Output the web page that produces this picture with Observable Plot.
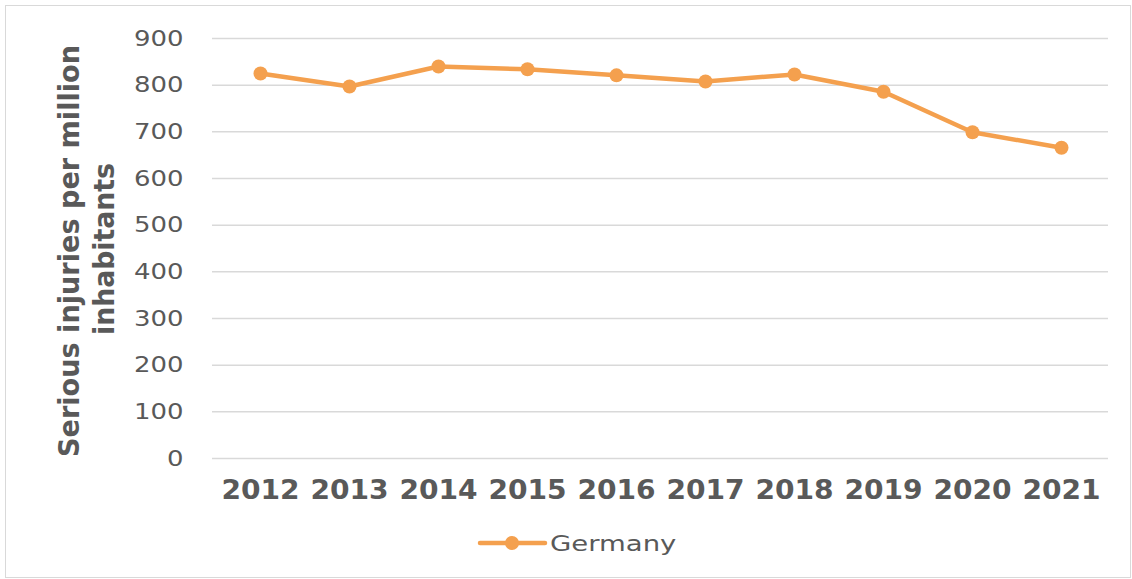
<!DOCTYPE html>
<html><head><meta charset="utf-8">
<script src="https://cdn.jsdelivr.net/npm/d3@7"></script>
<script src="https://cdn.jsdelivr.net/npm/@observablehq/plot@0.6"></script>
<style>
body{margin:0;background:#fff;font-family:"DejaVu Sans",Verdana,sans-serif;}
#frame{position:absolute;left:5px;top:5px;width:1126px;height:573px;border:1px solid #d9d9d9;box-sizing:border-box;}
#chart{position:absolute;left:0;top:0;width:1132px;}
#legend{position:absolute;left:0;top:515px;width:1132px;height:60px;}
</style></head><body>
<div id="frame"></div>
<div id="chart"></div>
<div id="legend"></div>
<script>
const years = ["2012","2013","2014","2015","2016","2017","2018","2019","2020","2021"];
const values = [825, 797, 840, 834, 821, 808, 823, 786, 699, 666];
const yTicks = [0, 100, 200, 300, 400, 500, 600, 700, 800, 900];
const seriesName = "Germany";
const yTitleLines = ["Serious injuries per million", "inhabitants"];
const lineColor = "#f4a04e";
const textColor = "#595959";

const data = years.map((y, i) => ({year: y, value: values[i], series: seriesName}));

const plot = Plot.plot({
  width: 1132, height: 515,
  marginLeft: 212, marginRight: 24, marginTop: 38, marginBottom: 57,
  style: {background: "transparent", fontFamily: "DejaVu Sans, Verdana, sans-serif", color: textColor},
  x: {type: "point", domain: years, padding: 0.5, label: null},
  y: {domain: [0, 900], label: null},
  marks: [
    Plot.gridY(yTicks, {stroke: "#d9d9d9", strokeOpacity: 1, strokeWidth: 1.5}),
    Plot.axisY(yTicks, {tickSize: 0, tickPadding: 29, fontSize: 22, label: null}),
    Plot.axisX({tickSize: 0, tickPadding: 22, fontSize: 26, fontWeight: "bold", label: null}),
    Plot.line(data, {x: "year", y: "value", stroke: lineColor, strokeWidth: 4.5}),
    Plot.dot(data, {x: "year", y: "value", fill: lineColor, r: 7})
  ]
});
document.getElementById("chart").appendChild(plot);

const svg = d3.select(plot);
svg.selectAll("g[aria-label='y-axis tick label'] text").each(function() {
  const w = this.getComputedTextLength();
  d3.select(this).attr("textLength", w * 1.18).attr("lengthAdjust", "spacingAndGlyphs");
});
svg.selectAll("g[aria-label='x-axis tick label'] text").each(function() {
  const w = this.getComputedTextLength();
  d3.select(this).attr("textLength", w * 1.08).attr("lengthAdjust", "spacingAndGlyphs");
});

const titleLens = [412, 172];
const titleX = [79, 114];
const titleY = [251, 249];
yTitleLines.forEach((t, i) => {
  svg.append("text")
    .attr("transform", `translate(${titleX[i]},${titleY[i]}) rotate(-90)`)
    .attr("text-anchor", "middle")
    .attr("font-weight", "bold")
    .attr("font-size", 28)
    .attr("fill", textColor)
    .attr("textLength", titleLens[i])
    .attr("lengthAdjust", "spacingAndGlyphs")
    .text(t);
});

// legend
const lg = d3.select("#legend").append("svg").attr("width", 1132).attr("height", 60);
lg.append("line").attr("x1", 480).attr("x2", 545).attr("y1", 28).attr("y2", 28)
  .attr("stroke", lineColor).attr("stroke-width", 4.5).attr("stroke-linecap", "round");
lg.append("circle").attr("cx", 512).attr("cy", 28).attr("r", 7).attr("fill", lineColor);
const lt = lg.append("text").attr("x", 550).attr("y", 36).attr("font-size", 22)
  .attr("fill", textColor).attr("font-family", "DejaVu Sans, Verdana, sans-serif").text(seriesName);
lt.attr("textLength", lt.node().getComputedTextLength() * 1.25).attr("lengthAdjust", "spacingAndGlyphs");
</script>
</body></html>
